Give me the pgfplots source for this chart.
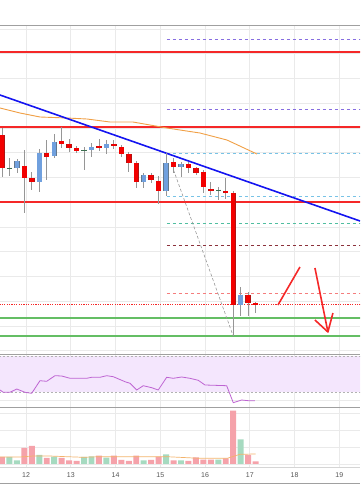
\documentclass[border=0pt]{standalone}
\usepackage{pgfplots}
\usepackage{pgfplotstable}
\pgfplotsset{compat=1.18}
\usepackage{fontspec}
\setmainfont{Liberation Sans}
\definecolor{gridc}{RGB}{234,234,234}
\definecolor{sepc}{RGB}{160,160,160}
\definecolor{candlered}{RGB}{242,0,0}
\definecolor{candleredE}{RGB}{175,20,20}
\definecolor{candleblue}{RGB}{112,160,222}
\definecolor{candleblueE}{RGB}{100,120,140}
\definecolor{dojic}{RGB}{60,110,80}
\definecolor{wick}{RGB}{150,150,150}
\definecolor{lvlred}{RGB}{245,40,40}
\definecolor{lvlgreen}{RGB}{100,190,100}
\definecolor{purpd}{RGB}{135,110,225}
\definecolor{lblue}{RGB}{120,195,230}
\definecolor{teald}{RGB}{80,190,160}
\definecolor{maroond}{RGB}{140,50,60}
\definecolor{pinkd}{RGB}{245,125,125}
\definecolor{trendblue}{RGB}{20,20,240}
\definecolor{maorange}{RGB}{240,160,70}
\definecolor{rsiband}{RGB}{244,230,253}
\definecolor{rsiline}{RGB}{190,100,210}
\definecolor{volred}{RGB}{245,162,170}
\definecolor{volgreen}{RGB}{166,218,192}
\definecolor{labelc}{RGB}{85,85,85}

% candles: i = 4h candle index, t/b = body top/bottom, h/l = high/low (price scale in reversed pixel-like units)
\pgfplotstableread{
i t b h l
0 135 168 128 177
3 166 178 150 213
4 178 182 172 190
6 153 157 140 180
8 141 144 127 148
9 144 148 139 152
10 148 151 146 153
13 146 148 139 151
15 144 146 140 149
16 147 154 145 157
17 154 163 152 172
18 163 182 161 188
20 175 180 173 183
21 181 191 176 204
23 162 167 158 173
25 164 168 162 173
26 168 173 167 175
27 172 187 170 193
28 189 191 182 195
30 191 193 178 199
31 193 305 191 336
33 295 303 292 316
34 303 305 302 313
}\bear
\pgfplotstableread{
i t b h l
2 161 168 159 173
5 153 182 149 192
7 142 156 134 158
12 147 150 143 157
14 144 148 140 154
19 175 182 173 188
22 163 191 153 196
24 164 167 162 177
32 295 305 287 316
}\bull
\pgfplotstableread{
i t b h l
1 167.5 168.5 158 176
11 149.5 150.5 147 170
29 189.5 190.5 187 200
}\doji
\pgfplotstableread{
i v
0 7
3 16
4 18
6 6
8 6
9 3.7
10 3
13 8.3
15 8.3
16 4
17 3
18 8.3
20 4
21 7.3
23 3.7
25 3
26 6.7
27 4.3
28 4.3
30 5.7
31 53.3
33 9
34 2.7
}\volr
\pgfplotstableread{
i v
1 7
2 3.7
5 9
7 7.3
11 7
12 7.7
14 6.3
19 3.7
22 9.7
24 3.7
29 4.3
32 24.7
}\volg

\pgfplotsset{panel/.style={
  scale only axis, width=360pt, anchor=south west,
  xmin=-0.27, xmax=48,
  axis line style={draw=none}, major tick length=0pt,
  xtick={3.22,9.22,15.22,21.22,27.22,33.22,39.22,45.22},
  xticklabels={}, yticklabels={},
  grid=major, major grid style={draw=gridc, line width=0.6pt}},
  candle/.style n args={2}{draw=none, mark=none, forget plot,
   error bars/.cd, y dir=plus, y explicit, error mark=none,
   error bar style={draw=#1, line width=#2, solid}},
  lvl/.style={draw=#1, line width=1pt, dash pattern=on 3pt off 3pt}}

\begin{document}
\begin{tikzpicture}
\path[use as bounding box] (0,0) rectangle (360pt,504pt);

% ---------------- main price panel
\begin{axis}[panel, at={(0pt,150pt)}, height=329pt, y dir=reverse, ymin=25, ymax=354,
  ytick={28.8,53.6,78.3,103,127.8,152.6,177.3,202,226.8,251.6,276.3,301,325.8,350.6}]
% horizontal levels
\addplot[draw=lvlred, line width=1.5pt] coordinates {(-1,52) (49,52)};
\addplot[draw=lvlred, line width=1.5pt] coordinates {(-1,127) (49,127)};
\addplot[draw=lvlred, line width=1.5pt] coordinates {(-1,202) (49,202)};
\addplot[draw=lvlgreen, line width=1.4pt] coordinates {(-1,318) (49,318)};
\addplot[draw=lvlgreen, line width=1.4pt] coordinates {(-1,336) (49,336)};
\addplot[lvl=purpd] coordinates {(22.1,39.5) (49,39.5)};
\addplot[lvl=purpd] coordinates {(22.1,109.5) (49,109.5)};
\addplot[lvl=lblue] coordinates {(22.1,153.5) (49,153.5)};
\addplot[lvl=lblue] coordinates {(22.1,196.5) (49,196.5)};
\addplot[lvl=teald] coordinates {(22.1,223.5) (49,223.5)};
\addplot[lvl=maroond] coordinates {(22.1,245.5) (49,245.5)};
\addplot[lvl=pinkd] coordinates {(22.1,293.5) (49,293.5)};
\addplot[draw=lvlred, line width=1pt, dash pattern=on 1.2pt off 1.2pt] coordinates {(-1,304.5) (49,304.5)};
% diagonal dashed
\addplot[draw=gray!80, line width=0.6pt, dash pattern=on 3pt off 2pt] coordinates {(23,170) (31,336)};
% orange moving average
\addplot[draw=maorange, line width=0.9pt] coordinates {(-0.27,108) (2.41,113) (5.09,117) (8.71,118) (11.39,119) (14.48,122) (17.56,122) (19.84,125) (22.12,128) (23.86,130) (26.54,133) (30.16,140) (34.18,154)};
% blue trendline
\addplot[draw=trendblue, line width=1.6pt] coordinates {(-0.27,95) (48,221)};
% wicks
\addplot[candle={wick}{0.8pt}] table[x=i, y=h, y error expr=\thisrow{l}-\thisrow{h}] {\bear};
\addplot[candle={wick}{0.8pt}] table[x=i, y=h, y error expr=\thisrow{l}-\thisrow{h}] {\bull};
\addplot[candle={wick}{0.8pt}] table[x=i, y=h, y error expr=\thisrow{l}-\thisrow{h}] {\doji};
% bodies
\addplot[candle={candleredE}{5.4pt}] table[x=i, y=t, y error expr=\thisrow{b}-\thisrow{t}] {\bear};
\addplot[candle={candlered}{4.4pt}] table[x=i, y=t, y error expr=\thisrow{b}-\thisrow{t}] {\bear};
\addplot[candle={candleblueE}{5.4pt}] table[x=i, y=t, y error expr=\thisrow{b}-\thisrow{t}] {\bull};
\addplot[candle={candleblue}{4.4pt}] table[x=i, y=t, y error expr=\thisrow{b}-\thisrow{t}] {\bull};
\addplot[candle={dojic}{5.4pt}] table[x=i, y=t, y error expr=\thisrow{b}-\thisrow{t}] {\doji};
% red hand-drawn arrows
\addplot[draw=lvlred, line width=1.6pt] coordinates {(37.0,305) (39.95,267)};
\addplot[draw=lvlred, line width=1.6pt] coordinates {(41.96,268) (43.7,332)};
\addplot[draw=lvlred, line width=1.6pt, line join=round] coordinates {(41.96,320) (43.7,332) (44.37,313)};
\end{axis}

% ---------------- RSI panel
\begin{axis}[panel, at={(0pt,97pt)}, height=53pt, y dir=reverse, ymin=354, ymax=407, ytick={365,400}]
\addplot[fill=rsiband, draw=none] coordinates {(-1,356) (49,356) (49,392) (-1,392)} -- cycle;
\addplot[draw=gray!60, line width=0.6pt, dash pattern=on 2pt off 2pt] coordinates {(-1,356) (49,356)};
\addplot[draw=gray!60, line width=0.6pt, dash pattern=on 2pt off 2pt] coordinates {(-1,392) (49,392)};
\addplot[draw=rsiline, line width=0.8pt] coordinates {
(-0.27,390) (0.17,392.3) (1.07,392.3) (1.97,389) (3.08,392.3) (3.98,393.3) (5.09,380.7) (5.99,381.3)
(7.10,375.7) (8.00,376) (9.12,378.3) (11.35,378.3) (12.02,377.3) (13.14,377.3) (14.03,375.7) (14.92,376.7)
(16.49,381.7) (17.16,383.3) (18.06,390) (18.94,385.7) (20.07,387.7) (20.95,390) (22.08,377.3) (22.96,378.3)
(24.09,377) (25.20,378.3) (26.31,380.3) (27.21,385) (30.12,385.7) (31.01,402.7) (32.13,400) (33.02,400.7) (33.91,400.7)};
\end{axis}

% ---------------- volume panel
\begin{axis}[panel, at={(0pt,37pt)}, height=60pt, ymin=-3, ymax=57, ytick={0,17,34,51}]
\addplot[ybar, bar width=0.8, bar shift=0pt, fill=volred, draw=none] table[x=i, y=v] {\volr};
\addplot[ybar, bar width=0.8, bar shift=0pt, fill=volgreen, draw=none] table[x=i, y=v] {\volg};
\addplot[draw=maorange!80, line width=0.7pt] coordinates {(-0.27,7) (2.4,7) (4.2,8) (6.4,8) (8.7,7.3) (10.9,6.7) (13.1,7.3) (17.6,7.3) (22.1,7.3) (26.5,5.7) (30.2,5.7) (31.9,9.7) (34,10)};
\end{axis}

% ---------------- time scale strip
\begin{axis}[scale only axis, width=360pt, height=16pt, anchor=south west, at={(0pt,21pt)},
  xmin=-0.27, xmax=48, ymin=0, ymax=1, axis line style={draw=none}, major tick length=0pt,
  ytick=\empty, xtick={3.22,9.22,15.22,21.22,27.22,33.22,39.22,45.22},
  xticklabels={12,13,14,15,16,17,18,19},
  xticklabel style={anchor=center, yshift=8pt, font=\fontsize{7}{8}\selectfont, text=labelc}]
\addplot[draw=none] coordinates {(0,0.5) (1,0.5)};
\end{axis}

% panel separators
\draw[sepc, line width=0.8pt] (0pt,479pt) -- (360pt,479pt);
\draw[sepc, line width=0.8pt] (0pt,150pt) -- (360pt,150pt);
\draw[sepc, line width=0.8pt] (0pt,97pt) -- (360pt,97pt);
\draw[gridc!80!gray, line width=0.6pt] (0pt,37pt) -- (360pt,37pt);
\draw[sepc, line width=0.8pt] (0pt,21pt) -- (360pt,21pt);
\end{tikzpicture}
\end{document}
